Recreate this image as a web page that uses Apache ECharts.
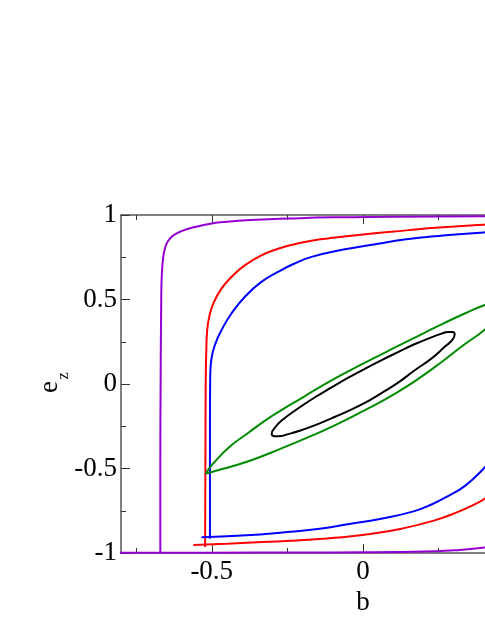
<!DOCTYPE html>
<html>
<head>
<meta charset="utf-8">
<script src="https://cdn.jsdelivr.net/npm/echarts@6/dist/echarts.min.js"></script>
<style>
  html, body { margin: 0; padding: 0; background: #fff; }
  #chart { width: 485px; height: 627px; }
</style>
</head>
<body>
<div id="chart"></div>
<script>
// tick marks
var xMajorTicks = [-0.5, 0, 0.5];
var xMinorTicks = [-0.75, -0.25, 0.25, 0.75];

// orbits in the (b, e_z) plane, [b, e_z]
var purpleTop = [[0.8, 0.996], [0.4, 0.992], [0.1, 0.989], [-0.1, 0.986], [-0.25, 0.979], [-0.35, 0.972],
    [-0.45, 0.96], [-0.5, 0.95], [-0.556, 0.929], [-0.6, 0.905], [-0.628, 0.878], [-0.645, 0.845],
    [-0.655, 0.8], [-0.661, 0.74], [-0.665, 0.65], [-0.667, 0.5], [-0.669, 0], [-0.67, -0.5], [-0.67, -1]];
var purpleBottom = [[-0.85, -0.999], [-0.5, -0.998], [-0.2, -0.997], [0, -0.996], [0.237, -0.99],
    [0.32, -0.982], [0.402, -0.968], [0.5, -0.95], [0.556, -0.929], [0.6, -0.905], [0.628, -0.878],
    [0.645, -0.845], [0.655, -0.8], [0.661, -0.74], [0.665, -0.65], [0.667, -0.5], [0.669, 0], [0.67, 1]];

var redTop = [[0.561, 0.952], [0.45, 0.947], [0.4, 0.943], [0.25, 0.926], [0.143, 0.909], [0, 0.885],
    [-0.11, 0.863], [-0.17, 0.848], [-0.23, 0.826], [-0.281, 0.8], [-0.336, 0.761],
    [-0.391, 0.702], [-0.435, 0.633], [-0.468, 0.564], [-0.495, 0.476], [-0.508, 0.4], [-0.515, 0.32],
    [-0.518, 0.2], [-0.52, 0], [-0.521, -0.5], [-0.522, -0.965]];
var redBottom = [[-0.561, -0.952], [-0.45, -0.945], [-0.35, -0.937], [-0.253, -0.929], [-0.17, -0.92],
    [-0.093, -0.91], [0.017, -0.889], [0.127, -0.856], [0.237, -0.807], [0.314, -0.757], [0.369, -0.712],
    [0.402, -0.68], [0.435, -0.633], [0.468, -0.564], [0.495, -0.476], [0.508, -0.4], [0.515, -0.32],
    [0.518, -0.2], [0.52, 0], [0.521, 0.5], [0.522, 0.965]];

var blueTop = [[0.534, 0.907], [0.4, 0.897], [0.25, 0.876], [0.143, 0.856], [0.05, 0.83], [-0.06, 0.797],
    [-0.17, 0.752], [-0.23, 0.71], [-0.281, 0.663], [-0.336, 0.604], [-0.391, 0.515], [-0.435, 0.417],
    [-0.468, 0.318], [-0.49, 0.229], [-0.501, 0.15], [-0.505, 0.05], [-0.506, -0.3], [-0.506, -0.915]];
var blueBottom = [[-0.534, -0.907], [-0.4, -0.897], [-0.25, -0.876], [-0.143, -0.856], [-0.05, -0.83],
    [0.06, -0.797], [0.17, -0.752], [0.23, -0.71], [0.281, -0.663], [0.336, -0.604], [0.391, -0.515],
    [0.435, -0.417], [0.468, -0.318], [0.49, -0.229], [0.501, -0.15], [0.505, -0.05], [0.506, 0.3],
    [0.506, 0.915]];

var greenUpper = [[-0.52, -0.53], [-0.495, -0.47], [-0.44, -0.37], [-0.38, -0.29], [-0.325, -0.218],
    [-0.275, -0.16], [-0.2, -0.08], [-0.104, 0.022], [0, 0.12], [0.116, 0.225], [0.2, 0.3], [0.27, 0.362],
    [0.34, 0.42], [0.4, 0.466], [0.46, 0.502], [0.52, 0.53]];
var greenLower = [[-0.52, -0.53], [-0.48, -0.51], [-0.44, -0.491], [-0.36, -0.445], [-0.275, -0.385],
    [-0.19, -0.322], [-0.104, -0.254], [0, -0.16], [0.116, -0.047], [0.226, 0.085], [0.336, 0.235],
    [0.4, 0.318], [0.46, 0.42], [0.5, 0.49], [0.52, 0.53]];

var blackLoop = [[0.006, 0.09], [0.06, 0.14], [0.116, 0.189], [0.17, 0.235], [0.226, 0.276], [0.26, 0.298],
    [0.281, 0.308], [0.295, 0.308], [0.303, 0.294], [0.296, 0.262], [0.27, 0.22], [0.226, 0.15],
    [0.17, 0.08], [0.116, 0.008], [0.06, -0.055], [0.006, -0.112], [-0.05, -0.16], [-0.104, -0.203],
    [-0.16, -0.245], [-0.215, -0.28], [-0.25, -0.298], [-0.27, -0.307], [-0.292, -0.309],
    [-0.302, -0.295], [-0.29, -0.256], [-0.27, -0.218], [-0.215, -0.145], [-0.16, -0.08],
    [-0.104, -0.02], [-0.05, 0.036], [0.006, 0.09]];

var font = 'Liberation Serif';
var frame = '#555';

function xAx(pos, ticks, len, withLine, withLabel) {
    return {
        type: 'value', position: pos, min: -0.8, max: 0.8,
        axisLine: { show: withLine, onZero: false, lineStyle: { color: frame, width: 1.5 } },
        axisTick: { show: true, inside: true, length: len, customValues: ticks,
            lineStyle: { color: '#333', width: 1 } },
        axisLabel: { show: withLabel, customValues: ticks, margin: 5,
            fontFamily: font, fontSize: 27, color: '#000' },
        splitLine: { show: false }
    };
}

function yAx(pos, withLabel) {
    return {
        type: 'value', position: pos, min: -1, max: 1, interval: 0.5,
        axisLine: { show: true, onZero: false, lineStyle: { color: frame, width: 1.5 } },
        axisTick: { show: true, inside: true, length: 9, lineStyle: { color: '#333', width: 1 } },
        minorTick: { show: true, splitNumber: 2, length: 5, lineStyle: { color: '#333', width: 1 } },
        axisLabel: { show: withLabel, margin: 4, fontFamily: font, fontSize: 27, color: '#000' },
        splitLine: { show: false }
    };
}

function orbit(data, color) {
    return {
        type: 'line', data: data, xAxisIndex: 0, yAxisIndex: 0,
        showSymbol: false, smooth: 0.5, clip: true,
        lineStyle: { color: color, width: 2 }
    };
}

var xBottom = xAx('bottom', xMajorTicks, 9, true, true);
xBottom.name = 'b';
xBottom.nameLocation = 'middle';
xBottom.nameGap = 23;
xBottom.nameTextStyle = { fontFamily: font, fontSize: 27, color: '#000' };

var option = {
    animation: false,
    grid: { left: 121, top: 215, bottom: 74, right: -120, outerBoundsMode: 'none' },
    xAxis: [
        xBottom,
        xAx('bottom', xMinorTicks, 5, false, false),
        xAx('top', xMajorTicks, 9, true, false),
        xAx('top', xMinorTicks, 5, false, false)
    ],
    yAxis: [yAx('left', true), yAx('right', false)],
    graphic: [
        { type: 'text', x: 50, y: 387, rotation: Math.PI / 2,
          style: { text: 'e', fontFamily: font, fontSize: 27, fill: '#000', align: 'center', verticalAlign: 'middle' } },
        { type: 'text', x: 64, y: 376, rotation: Math.PI / 2,
          style: { text: 'z', fontFamily: font, fontSize: 16, fill: '#000', align: 'center', verticalAlign: 'middle' } }
    ],
    series: [
        orbit(purpleTop, '#9400d3'),
        orbit(purpleBottom, '#9400d3'),
        orbit(redTop, '#ff0000'),
        orbit(redBottom, '#ff0000'),
        orbit(blueTop, '#0000ff'),
        orbit(blueBottom, '#0000ff'),
        orbit(greenUpper, '#008b00'),
        orbit(greenLower, '#008b00'),
        orbit(blackLoop, '#000000')
    ]
};

var myChart = echarts.init(document.getElementById('chart'));
myChart.setOption(option);
</script>
</body>
</html>
